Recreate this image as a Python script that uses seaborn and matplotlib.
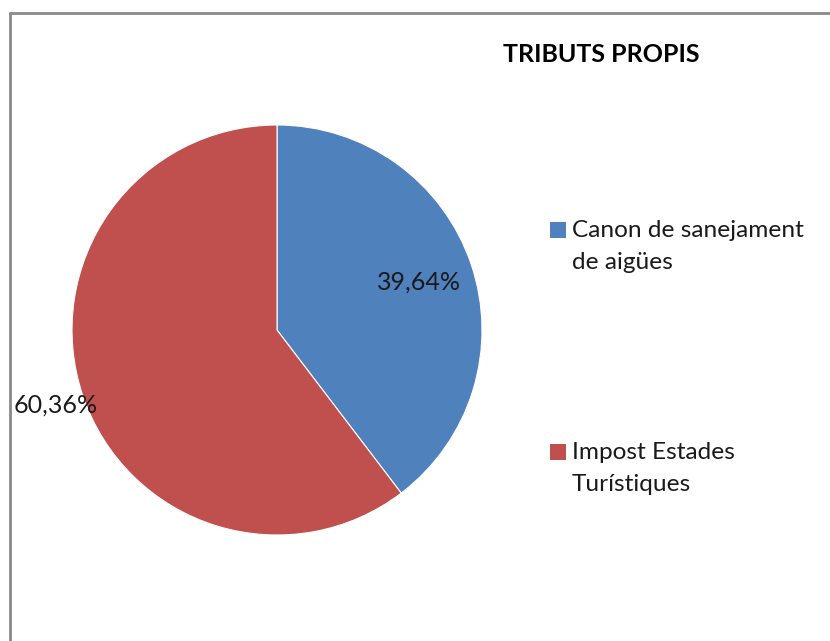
import numpy as np
import matplotlib.pyplot as plt
import matplotlib.patches as mpatches
from matplotlib.lines import Line2D
import seaborn as sns

# Chart data
labels = ["Canon de sanejament\nde aigües", "Impost Estades\nTurístiques"]
shares = [39.64, 60.36]
pct_labels = ["39,64%", "60,36%"]
colors = ["#4F81BD", "#C0504D"]
title = "TRIBUTS PROPIS"

sns.set_theme(style="white")
plt.rcParams['font.family'] = ['Lato', 'DejaVu Sans']

W, H = 830, 641
fig = plt.figure(figsize=(W / 100, H / 100), dpi=100)
fig.patch.set_facecolor("white")

# pie axes: square region in pixels
ax = fig.add_axes([72 / W, (H - 535) / H, 410 / W, 410 / H])
wedges, _ = ax.pie(shares, colors=colors, startangle=90, counterclock=False,
                   wedgeprops=dict(edgecolor="white", linewidth=0.8))
ax.set_xlim(-1, 1)
ax.set_ylim(-1, 1)

# percentage labels at mid-angle of each slice
dists = [0.73, 1.14]
cum = np.cumsum([0] + shares[:-1])
for start, val, txt, d in zip(cum, shares, pct_labels, dists):
    ang = np.deg2rad(90 - 3.6 * (start + val / 2))
    ax.text(d * np.cos(ang), d * np.sin(ang), txt, ha="center", va="center",
            fontsize=18, color="#1a1a1a", clip_on=False)

# title
fig.text(601 / W, 1 - 55 / H, title, ha="center", va="center",
         fontsize=18, fontweight="bold", color="black")

# legend drawn by hand so the square lines up with the first text line
legend_y = [230, 452]
for lab, col, y in zip(labels, colors, legend_y):
    fig.add_artist(mpatches.Rectangle((550 / W, 1 - (y + 8) / H), 16 / W, 16 / H,
                                      transform=fig.transFigure, facecolor=col,
                                      edgecolor="none"))
    fig.text(572 / W, 1 - (y - 10) / H, lab, ha="left", va="top",
             fontsize=17.6, color="#1a1a1a", linespacing=1.65)

# chart area border (top and left edges visible)
fig.add_artist(Line2D([10 / W, 1.0], [1 - 13 / H, 1 - 13 / H], transform=fig.transFigure,
                      color="#8a8a8a", linewidth=2))
fig.add_artist(Line2D([10 / W, 10 / W], [0, 1 - 13 / H], transform=fig.transFigure,
                      color="#8a8a8a", linewidth=2))

fig.savefig("out.png", dpi=100)
